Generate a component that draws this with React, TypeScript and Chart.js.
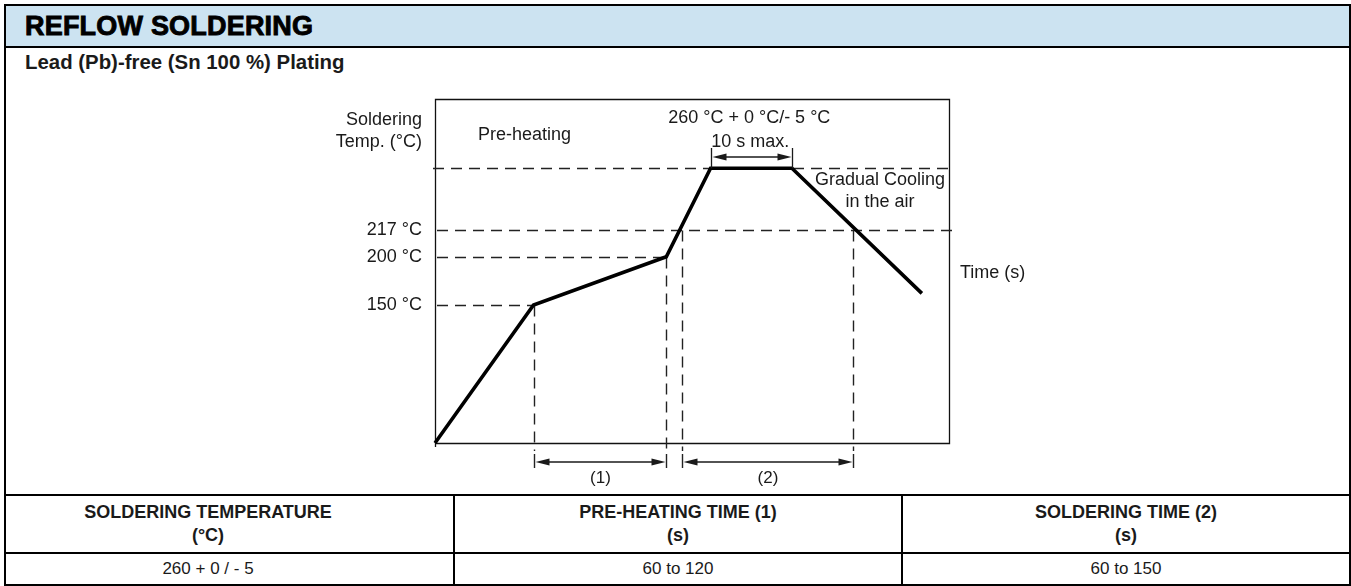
import React, { useEffect, useRef } from "react";
import { Chart, registerables, LinearScale } from "chart.js";

Chart.register(...registerables);

// ---------- data ----------
const profileTimes = [0, 69, 162, 193, 250, 341]; // s (schematic)
const profileTemps = [25, 150, 200, 260, 260, 162]; // °C
const tempTicks = [150, 200, 217]; // labelled temperatures
const peakTemp = 260;
const liquidusTemp = 217;
const preheatWindow = [69, 162]; // (1) 150 °C → 200 °C
const solderWindow = [173, 293]; // (2) time above 217 °C
const peakWindow = [193, 250]; // 10 s max.
const timeRange = [0, 360];

const tableHeaders = [
  ["SOLDERING TEMPERATURE", "(°C)"],
  ["PRE-HEATING TIME (1)", "(s)"],
  ["SOLDERING TIME (2)", "(s)"],
];
const tableValues = ["260 + 0 / - 5", "60 to 120", "60 to 150"];

// ---------- schematic (non-linear) temperature axis ----------
// The drawing is not to scale: each knot maps a temperature to a fraction of the axis height.
const AXIS_KNOTS: [number, number][] = [
  [25, 0],
  [150, 0.4012],
  [200, 0.5416],
  [217, 0.6192],
  [260, 0.7985],
  [300, 1],
];

function tempToFraction(v: number): number {
  const k = AXIS_KNOTS;
  let i = 0;
  if (v <= k[0][0]) i = 0;
  else if (v >= k[k.length - 1][0]) i = k.length - 2;
  else {
    while (i < k.length - 2 && v > k[i + 1][0]) i++;
  }
  const [v0, f0] = k[i];
  const [v1, f1] = k[i + 1];
  return f0 + ((v - v0) / (v1 - v0)) * (f1 - f0);
}

function fractionToTemp(f: number): number {
  const k = AXIS_KNOTS;
  let i = 0;
  if (f <= k[0][1]) i = 0;
  else if (f >= k[k.length - 1][1]) i = k.length - 2;
  else {
    while (i < k.length - 2 && f > k[i + 1][1]) i++;
  }
  const [v0, f0] = k[i];
  const [v1, f1] = k[i + 1];
  return v0 + ((f - f0) / (f1 - f0)) * (v1 - v0);
}

class SchematicScale extends LinearScale {
  static id = "schematic";
  static defaults = LinearScale.defaults;
  getPixelForValue(value: number) {
    return this.getPixelForDecimal(tempToFraction(value));
  }
  getValueForPixel(pixel: number) {
    return fractionToTemp(this.getDecimalForPixel(pixel));
  }
}
Chart.register(SchematicScale as any);

const FONT = '"Liberation Sans", Arial, Helvetica, sans-serif';
const INK = "#1a1a1a";

function arrowHead(ctx: CanvasRenderingContext2D, tipX: number, y: number, dir: number) {
  const len = 14;
  const hw = 3.5;
  ctx.beginPath();
  ctx.moveTo(tipX, y);
  ctx.lineTo(tipX + dir * len, y - hw);
  ctx.lineTo(tipX + dir * len, y + hw);
  ctx.closePath();
  ctx.fill();
}

function dimArrow(ctx: CanvasRenderingContext2D, x0: number, x1: number, y: number) {
  ctx.beginPath();
  ctx.moveTo(x0 + 10, y);
  ctx.lineTo(x1 - 10, y);
  ctx.stroke();
  arrowHead(ctx, x0 + 1, y, 1);
  arrowHead(ctx, x1 - 1, y, -1);
}

const annotations = {
  id: "reflowAnnotations",
  beforeDatasetsDraw(chart: any) {
    const { ctx, chartArea: a, scales } = chart;
    const x = scales.x;
    const y = scales.y;
    const px = (t: number) => Math.round(x.getPixelForValue(t)) + 0.5;
    const py = (v: number) => Math.round(y.getPixelForValue(v)) + 0.5;
    ctx.save();

    // frame of the diagram
    ctx.strokeStyle = "#111";
    ctx.lineWidth = 1.3;
    ctx.setLineDash([]);
    ctx.beginPath();
    ctx.moveTo(Math.round(a.left) + 0.5, a.bottom + 4);
    ctx.lineTo(Math.round(a.left) + 0.5, Math.round(a.top) + 0.5);
    ctx.lineTo(Math.round(a.right) + 0.5, Math.round(a.top) + 0.5);
    ctx.lineTo(Math.round(a.right) + 0.5, Math.round(a.bottom) + 0.5);
    ctx.lineTo(Math.round(a.left), Math.round(a.bottom) + 0.5);
    ctx.stroke();

    // dashed guide lines
    ctx.strokeStyle = "#222";
    ctx.lineWidth = 1.4;
    ctx.setLineDash([11, 7]);
    const h = (v: number, x0: number, x1: number) => {
      ctx.beginPath();
      ctx.moveTo(x0, py(v));
      ctx.lineTo(x1, py(v));
      ctx.stroke();
    };
    h(peakTemp, a.left - 2, a.right);
    h(liquidusTemp, a.left + 2, a.right + 4);
    h(profileTemps[2], a.left + 2, px(preheatWindow[1]));
    h(profileTemps[1], a.left + 2, px(preheatWindow[0]));

    const drops: [number, number][] = [
      [preheatWindow[0], profileTemps[1]],
      [preheatWindow[1], profileTemps[2]],
      [solderWindow[0], liquidusTemp],
      [solderWindow[1], liquidusTemp],
    ];
    drops.forEach(([t, v]) => {
      ctx.setLineDash([11, 7]);
      ctx.beginPath();
      ctx.moveTo(px(t), py(v));
      ctx.lineTo(px(t), a.bottom + 8);
      ctx.stroke();
      ctx.setLineDash([]);
      ctx.beginPath();
      ctx.moveTo(px(t), a.bottom + 11);
      ctx.lineTo(px(t), a.bottom + 25);
      ctx.stroke();
    });
    ctx.restore();
  },
  afterDraw(chart: any) {
    const { ctx, chartArea: a, scales } = chart;
    const x = scales.x;
    const y = scales.y;
    const px = (t: number) => Math.round(x.getPixelForValue(t)) + 0.5;
    ctx.save();
    ctx.setLineDash([]);
    ctx.fillStyle = INK;
    ctx.strokeStyle = INK;
    ctx.lineWidth = 1.3;

    // dimension arrows (1) and (2)
    const ay = a.bottom + 19;
    dimArrow(ctx, px(preheatWindow[0]), px(preheatWindow[1]), ay);
    dimArrow(ctx, px(solderWindow[0]), px(solderWindow[1]), ay);

    // 10 s max. arrow
    const pyPeak = y.getPixelForValue(peakTemp);
    const tyTop = a.top + 49;
    [peakWindow[0], peakWindow[1]].forEach((t) => {
      ctx.beginPath();
      ctx.moveTo(px(t), tyTop);
      ctx.lineTo(px(t), pyPeak);
      ctx.stroke();
    });
    dimArrow(ctx, px(peakWindow[0]), px(peakWindow[1]), a.top + 58);

    // texts
    ctx.font = `18px ${FONT}`;
    ctx.textBaseline = "alphabetic";
    ctx.textAlign = "right";
    ctx.fillText("Soldering", a.left - 13, a.top + 26);
    ctx.fillText("Temp. (°C)", a.left - 13, a.top + 48);
    ctx.textAlign = "left";
    ctx.fillText("Pre-heating", a.left + 43, a.top + 41);
    ctx.fillText("Time (s)", a.right + 11, a.top + 179);
    ctx.textAlign = "center";
    const peakMid = (x.getPixelForValue(peakWindow[0]) + x.getPixelForValue(peakWindow[1])) / 2;
    ctx.fillText("260 °C + 0 °C/- 5 °C", peakMid - 2, a.top + 24);
    ctx.fillText("10 s max.", peakMid - 1, a.top + 48);
    ctx.fillText("Gradual Cooling", a.right - 69, a.top + 86);
    ctx.fillText("in the air", a.right - 69, a.top + 108);

    ctx.font = `17px ${FONT}`;
    ctx.fillText("(1)", (px(preheatWindow[0]) + px(preheatWindow[1])) / 2, a.bottom + 40);
    ctx.fillText("(2)", (px(solderWindow[0]) + px(solderWindow[1])) / 2, a.bottom + 40);
    ctx.restore();
  },
};

export default function App() {
  const ref = useRef<HTMLCanvasElement>(null);

  useEffect(() => {
    document.body.style.margin = "0";
    document.body.style.overflow = "hidden";
    const canvas = ref.current;
    if (!canvas) return;
    const chart = new Chart(canvas, {
      type: "line",
      data: {
        datasets: [
          {
            label: "Reflow profile",
            data: profileTimes.map((t, i) => ({ x: t, y: profileTemps[i] })),
            borderColor: "#000",
            borderWidth: 3.6,
            pointRadius: 0,
            tension: 0,
            fill: false,
            clip: false as any,
          },
        ],
      },
      options: {
        responsive: false,
        animation: false,
        devicePixelRatio: 1,
        layout: { padding: { left: 315, right: 402, top: 51, bottom: 51 } },
        plugins: { legend: { display: false }, tooltip: { enabled: false } },
        events: [],
        scales: {
          x: {
            type: "linear",
            display: false,
            min: timeRange[0],
            max: timeRange[1],
          },
          y: {
            type: "schematic" as any,
            position: "left",
            min: 25,
            max: 300,
            grid: { display: false, drawTicks: false, tickLength: 0 },
            border: { display: false },
            ticks: {
              padding: 13,
              autoSkip: false,
              color: INK,
              font: { family: FONT, size: 18 },
              callback: (v: any) => `${v} °C`,
            },
            afterBuildTicks: (scale: any) => {
              scale.ticks = tempTicks.map((v) => ({ value: v }));
            },
            afterFit: (scale: any) => {
              scale.width = 120;
            },
          } as any,
        },
      },
      plugins: [annotations],
    } as any);
    return () => chart.destroy();
  }, []);

  const colLeft = [6, 455, 903];
  const colWidth = [404, 446, 446];

  return (
    <div
      style={{
        position: "absolute",
        left: 0,
        top: 0,
        width: 1351,
        height: 586,
        fontFamily: FONT,
        color: "#000",
        background: "#fff",
        overflow: "hidden",
      }}
    >
      {/* header band */}
      <div style={{ position: "absolute", left: 6, top: 6, width: 1343, height: 40, background: "#cce3f1" }} />
      <div
        style={{
          position: "absolute",
          left: 25,
          top: 13,
          fontSize: 27,
          lineHeight: "27px",
          fontWeight: 700,
          letterSpacing: 0.2,
          WebkitTextStroke: "0.9px #000",
          whiteSpace: "nowrap",
        }}
      >
        REFLOW SOLDERING
      </div>
      <div
        style={{
          position: "absolute",
          left: 25,
          top: 52,
          fontSize: 20.4,
          lineHeight: "20px",
          fontWeight: 700,
          color: INK,
          whiteSpace: "nowrap",
        }}
      >
        Lead (Pb)-free (Sn 100 %) Plating
      </div>

      {/* rules */}
      <div style={{ position: "absolute", left: 4, top: 46, width: 1347, height: 2, background: "#000" }} />
      <div style={{ position: "absolute", left: 4, top: 494, width: 1347, height: 2, background: "#000" }} />
      <div style={{ position: "absolute", left: 4, top: 552, width: 1347, height: 2, background: "#000" }} />
      <div style={{ position: "absolute", left: 453, top: 494, width: 2, height: 92, background: "#000" }} />
      <div style={{ position: "absolute", left: 901, top: 494, width: 2, height: 92, background: "#000" }} />
      <div
        style={{
          position: "absolute",
          left: 4,
          top: 4,
          width: 1347,
          height: 582,
          border: "2px solid #000",
          boxSizing: "border-box",
        }}
      />

      {/* table */}
      {tableHeaders.map((lines, i) => (
        <div
          key={"h" + i}
          style={{
            position: "absolute",
            left: colLeft[i],
            top: 496,
            width: colWidth[i],
            height: 56,
            display: "flex",
            flexDirection: "column",
            justifyContent: "center",
            alignItems: "center",
            fontWeight: 700,
            fontSize: 18,
            lineHeight: "23px",
            color: INK,
          }}
        >
          {lines.map((l, j) => (
            <div key={j}>{l}</div>
          ))}
        </div>
      ))}
      {tableValues.map((v, i) => (
        <div
          key={"v" + i}
          style={{
            position: "absolute",
            left: colLeft[i],
            top: 554,
            width: colWidth[i],
            height: 30,
            display: "flex",
            justifyContent: "center",
            alignItems: "center",
            fontSize: 17,
            lineHeight: "20px",
            color: INK,
          }}
        >
          {v}
        </div>
      ))}

      <canvas
        ref={ref}
        width={1351}
        height={446}
        style={{ position: "absolute", left: 0, top: 48, width: 1351, height: 446 }}
      />
    </div>
  );
}
